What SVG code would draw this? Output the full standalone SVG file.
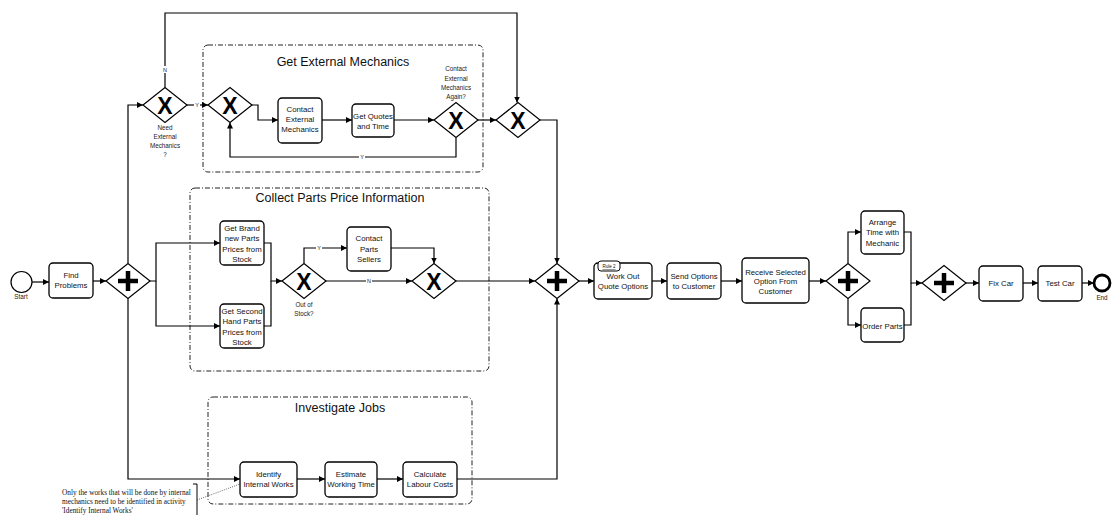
<svg xmlns="http://www.w3.org/2000/svg" width="1112" height="515" viewBox="0 0 1112 515">
  <defs>
    <marker id="arrow" viewBox="0 0 10 10" refX="10" refY="5" markerWidth="6" markerHeight="6" orient="auto" markerUnits="userSpaceOnUse">
      <path d="M0,0 L10,5 L0,10 Z" fill="#000"/>
    </marker>
    <!-- exclusive gateway: diamond with bold X -->
    <g id="gw-x">
      <path d="M-22,0 L0,-17.5 L22,0 L0,17.5 Z" fill="#fff" stroke="#000" stroke-width="1.2"/>
      <text x="0" y="8.5" text-anchor="middle" font-family="Liberation Sans, Arial, sans-serif" font-weight="bold" font-size="23">X</text>
    </g>
    <!-- parallel gateway: diamond with bold plus -->
    <g id="gw-plus">
      <path d="M-22,0 L0,-17.5 L22,0 L0,17.5 Z" fill="#fff" stroke="#000" stroke-width="1.2"/>
      <path d="M-10,0 H10 M0,-10 V10" stroke="#000" stroke-width="4.5"/>
    </g>
  </defs>
  <style>
    .task { fill: #fff; stroke: #000; stroke-width: 1.3; }
    .sub { fill: none; stroke: #222; stroke-width: 1; stroke-dasharray: 5 2 1 2; }
    .flow { fill: none; stroke: #000; stroke-width: 1.2; }
    .lbl { font-family: "Liberation Sans", Arial, sans-serif; font-size: 7.8px; fill: #111; text-anchor: middle; }
    .small { font-family: "Liberation Sans", Arial, sans-serif; font-size: 6.3px; fill: #222; text-anchor: middle; }
    .title { font-family: "Liberation Sans", Arial, sans-serif; font-size: 12.5px; fill: #111; text-anchor: middle; }
    .cond { font-family: "Liberation Sans", Arial, sans-serif; font-size: 5.5px; fill: #222; text-anchor: middle; }
    .note { font-family: "Liberation Serif", "Times New Roman", serif; font-size: 7.3px; fill: #111; }
  </style>

  <rect width="1112" height="515" fill="#fff"/>

  <!-- sub-process frames -->
  <g id="sp-external">
    <rect class="sub" x="203" y="45" width="280" height="127" rx="5"/>
    <text class="title" x="343" y="66">Get External Mechanics</text>
  </g>
  <g id="sp-parts">
    <rect class="sub" x="190" y="188" width="299" height="183" rx="5"/>
    <text class="title" x="340" y="202">Collect Parts Price Information</text>
  </g>
  <g id="sp-jobs">
    <rect class="sub" x="208" y="397" width="264" height="107" rx="5"/>
    <text class="title" x="340" y="412">Investigate Jobs</text>
  </g>

  <!-- sequence flows -->
  <g id="connectors">
    <path class="flow" d="M32,282 H49" marker-end="url(#arrow)"/>
    <path class="flow" d="M93,281 H106" marker-end="url(#arrow)"/>
    <path class="flow" d="M128,263.5 V105 H143" marker-end="url(#arrow)"/>
    <path class="flow" d="M128,298.5 V479 H240" marker-end="url(#arrow)"/>
    <path class="flow" d="M150,281 H156 V243 H220" marker-end="url(#arrow)"/>
    <path class="flow" d="M156,281 V326 H220" marker-end="url(#arrow)"/>
    <path class="flow" d="M165,87.5 V13 H517 V102.5" marker-end="url(#arrow)"/>
    <path class="flow" d="M187,105 H208" marker-end="url(#arrow)"/>
    <path class="flow" d="M252,105 H258 V120 H278" marker-end="url(#arrow)"/>
    <path class="flow" d="M322,120 H352" marker-end="url(#arrow)"/>
    <path class="flow" d="M394,120 H434" marker-end="url(#arrow)"/>
    <path class="flow" d="M456,137.5 V157 H230 V122.5" marker-end="url(#arrow)"/>
    <path class="flow" d="M478,120 H496" marker-end="url(#arrow)"/>
    <path class="flow" d="M540,120 H557 V263.5" marker-end="url(#arrow)"/>
    <path class="flow" d="M264,243 H271 V281 H282" marker-end="url(#arrow)"/>
    <path class="flow" d="M264,326 H271 V281"/>
    <path class="flow" d="M304,263.5 V248 H347" marker-end="url(#arrow)"/>
    <path class="flow" d="M326,281 H412" marker-end="url(#arrow)"/>
    <path class="flow" d="M391,248 H434 V263.5" marker-end="url(#arrow)"/>
    <path class="flow" d="M456,281 H535" marker-end="url(#arrow)"/>
    <path class="flow" d="M297,479 H325" marker-end="url(#arrow)"/>
    <path class="flow" d="M377,479 H403" marker-end="url(#arrow)"/>
    <path class="flow" d="M457,479 H557 V298.5" marker-end="url(#arrow)"/>
    <path class="flow" d="M579,281 H594" marker-end="url(#arrow)"/>
    <path class="flow" d="M652,281 H667" marker-end="url(#arrow)"/>
    <path class="flow" d="M721,281 H742" marker-end="url(#arrow)"/>
    <path class="flow" d="M809,281 H826" marker-end="url(#arrow)"/>
    <path class="flow" d="M848,263.5 V232 H861" marker-end="url(#arrow)"/>
    <path class="flow" d="M848,298.5 V325 H861" marker-end="url(#arrow)"/>
    <path class="flow" d="M904,232 H911 V283 H922" marker-end="url(#arrow)"/>
    <path class="flow" d="M904,325 H911 V283"/>
    <path class="flow" d="M966,283 H979" marker-end="url(#arrow)"/>
    <path class="flow" d="M1023,283 H1038" marker-end="url(#arrow)"/>
    <path class="flow" d="M1082,283 H1094" marker-end="url(#arrow)"/>
    <!-- association to annotation -->
    <path d="M197,500 L240,484" fill="none" stroke="#444" stroke-width="0.8" stroke-dasharray="1 1.2"/>
    <!-- condition labels -->
    <rect x="162" y="66" width="6" height="7" fill="#fff"/>
    <text class="cond" x="165" y="72">N</text>
    <rect x="194" y="101.5" width="6" height="7" fill="#fff"/>
    <text class="cond" x="197" y="107">Y</text>
    <rect x="359" y="153.5" width="6" height="7" fill="#fff"/>
    <text class="cond" x="362" y="159">Y</text>
    <rect x="316" y="244.5" width="6" height="7" fill="#fff"/>
    <text class="cond" x="319" y="250">Y</text>
    <rect x="366" y="277.5" width="6" height="7" fill="#fff"/>
    <text class="cond" x="369" y="283">N</text>
  </g>

  <!-- events -->
  <g id="start">
    <circle cx="21.5" cy="282" r="10.5" fill="#fff" stroke="#000" stroke-width="1.2"/>
    <text class="small" x="21" y="299">Start</text>
  </g>
  <g id="end">
    <circle cx="1102" cy="283" r="8" fill="#fff" stroke="#000" stroke-width="2.8"/>
    <text class="small" x="1102" y="300">End</text>
  </g>

  <!-- tasks -->
  <g id="find-problems">
    <rect class="task" x="49" y="263" width="44" height="35" rx="4"/>
    <text class="lbl" x="71" y="277.5">Find</text>
    <text class="lbl" x="71" y="287.5">Problems</text>
  </g>
  <g id="contact-external">
    <rect class="task" x="278" y="98" width="44" height="45" rx="4"/>
    <text class="lbl" x="300" y="112">Contact</text>
    <text class="lbl" x="300" y="122">External</text>
    <text class="lbl" x="300" y="132">Mechanics</text>
  </g>
  <g id="get-quotes">
    <rect class="task" x="352" y="104" width="42" height="33" rx="4"/>
    <text class="lbl" x="373" y="119">Get Quotes</text>
    <text class="lbl" x="373" y="128.5">and Time</text>
  </g>
  <g id="brand-new">
    <rect class="task" x="220" y="221" width="44" height="44" rx="4"/>
    <text class="lbl" x="242" y="230.5">Get Brand</text>
    <text class="lbl" x="242" y="241">new Parts</text>
    <text class="lbl" x="242" y="251.5">Prices from</text>
    <text class="lbl" x="242" y="262">Stock</text>
  </g>
  <g id="second-hand">
    <rect class="task" x="220" y="304" width="44" height="44" rx="4"/>
    <text class="lbl" x="242" y="313.5">Get Second</text>
    <text class="lbl" x="242" y="324">Hand Parts</text>
    <text class="lbl" x="242" y="334.5">Prices from</text>
    <text class="lbl" x="242" y="345">Stock</text>
  </g>
  <g id="contact-sellers">
    <rect class="task" x="347" y="227" width="44" height="44" rx="4"/>
    <text class="lbl" x="369" y="241">Contact</text>
    <text class="lbl" x="369" y="251.5">Parts</text>
    <text class="lbl" x="369" y="262">Sellers</text>
  </g>
  <g id="identify-works">
    <rect class="task" x="240" y="462" width="57" height="35" rx="4"/>
    <text class="lbl" x="268.5" y="476.5">Identify</text>
    <text class="lbl" x="268.5" y="486.5">Internal Works</text>
  </g>
  <g id="estimate-time">
    <rect class="task" x="325" y="462" width="52" height="35" rx="4"/>
    <text class="lbl" x="351" y="476.5">Estimate</text>
    <text class="lbl" x="351" y="486.5">Working Time</text>
  </g>
  <g id="labour-costs">
    <rect class="task" x="403" y="462" width="54" height="35" rx="4"/>
    <text class="lbl" x="430" y="476.5">Calculate</text>
    <text class="lbl" x="430" y="486.5">Labour Costs</text>
  </g>
  <g id="quote-options">
    <rect class="task" x="594" y="263" width="58" height="36" rx="4"/>
    <rect x="598" y="261" width="22" height="10" rx="3" fill="#fff" stroke="#000" stroke-width="1"/>
    <text x="609" y="268" text-anchor="middle" font-family="Liberation Sans, Arial, sans-serif" font-size="4.5" text-decoration="underline" fill="#111">Rule 2</text>
    <text class="lbl" x="623" y="279">Work Out</text>
    <text class="lbl" x="623" y="289">Quote Options</text>
  </g>
  <g id="send-options">
    <rect class="task" x="667" y="263" width="54" height="36" rx="4"/>
    <text class="lbl" x="694" y="279">Send Options</text>
    <text class="lbl" x="694" y="289">to Customer</text>
  </g>
  <g id="receive-option">
    <rect class="task" x="742" y="258" width="67" height="45" rx="4"/>
    <text class="lbl" x="775.5" y="274.5">Receive Selected</text>
    <text class="lbl" x="775.5" y="284">Option From</text>
    <text class="lbl" x="775.5" y="294">Customer</text>
  </g>
  <g id="arrange-time">
    <rect class="task" x="861" y="211" width="43" height="43" rx="4"/>
    <text class="lbl" x="882.5" y="224.5">Arrange</text>
    <text class="lbl" x="882.5" y="235">Time with</text>
    <text class="lbl" x="882.5" y="245.5">Mechanic</text>
  </g>
  <g id="order-parts">
    <rect class="task" x="861" y="308" width="43" height="34" rx="4"/>
    <text class="lbl" x="882.5" y="328.5">Order Parts</text>
  </g>
  <g id="fix-car">
    <rect class="task" x="979" y="266" width="44" height="35" rx="4"/>
    <text class="lbl" x="1001" y="286">Fix Car</text>
  </g>
  <g id="test-car">
    <rect class="task" x="1038" y="266" width="44" height="35" rx="4"/>
    <text class="lbl" x="1060" y="286">Test Car</text>
  </g>

  <!-- gateways -->
  <g id="gw-need-external">
    <use href="#gw-x" x="165" y="105"/>
    <text class="small" x="165" y="130">Need</text>
    <text class="small" x="165" y="139">External</text>
    <text class="small" x="165" y="148">Mechanics</text>
    <text class="small" x="165" y="156.5">?</text>
  </g>
  <g id="gw-loop-merge">
    <use href="#gw-x" x="230" y="105"/>
  </g>
  <g id="gw-contact-again">
    <use href="#gw-x" x="456" y="120"/>
    <text class="small" x="456" y="71">Contact</text>
    <text class="small" x="456" y="80.5">External</text>
    <text class="small" x="456" y="89.5">Mechanics</text>
    <text class="small" x="456" y="98.5">Again?</text>
  </g>
  <g id="gw-external-merge">
    <use href="#gw-x" x="518" y="120"/>
  </g>
  <g id="gw-split">
    <use href="#gw-plus" x="128" y="281"/>
  </g>
  <g id="gw-out-of-stock">
    <use href="#gw-x" x="304" y="281"/>
    <text class="small" x="304" y="307">Out of</text>
    <text class="small" x="304" y="316">Stock?</text>
  </g>
  <g id="gw-stock-merge">
    <use href="#gw-x" x="434" y="281"/>
  </g>
  <g id="gw-join">
    <use href="#gw-plus" x="557" y="281"/>
  </g>
  <g id="gw-split-2">
    <use href="#gw-plus" x="848" y="281"/>
  </g>
  <g id="gw-join-2">
    <use href="#gw-plus" x="944" y="283"/>
  </g>

  <!-- text annotation -->
  <g id="annotation">
    <path d="M193,484 H197 V515" fill="none" stroke="#000" stroke-width="1"/>
    <text class="note" x="62" y="495">Only the works that will be done by internal</text>
    <text class="note" x="62" y="504">mechanics need to be identified in activity</text>
    <text class="note" x="62" y="513">'Identify Internal Works'</text>
  </g>
</svg>
